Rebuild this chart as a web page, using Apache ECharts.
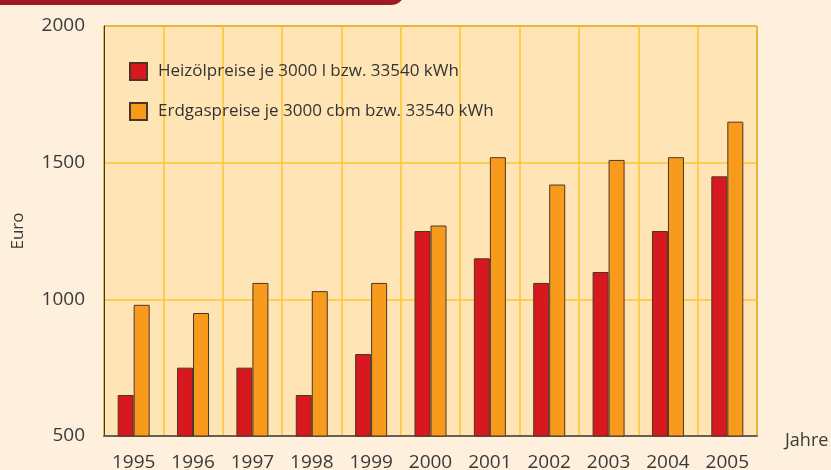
<!DOCTYPE html>
<html><head><meta charset="utf-8">
<script src="https://cdn.jsdelivr.net/npm/echarts@6/dist/echarts.min.js"></script>
<style>html,body{margin:0;padding:0;background:#FEF0DC;}#c{width:831px;height:470px;}</style>
</head><body><div id="c"></div>
<script>
const years = ['1995','1996','1997','1998','1999','2000','2001','2002','2003','2004','2005'];
const heizoel = [650, 750, 750, 650, 800, 1250, 1150, 1060, 1100, 1250, 1450];
const erdgas = [980, 950, 1060, 1030, 1060, 1270, 1520, 1420, 1510, 1520, 1650];
const seriesNames = ['Heizölpreise je 3000 l bzw. 33540 kWh', 'Erdgaspreise je 3000 cbm bzw. 33540 kWh'];
const yTicks = {min: 500, max: 2000, interval: 500};

const font = 'Open Sans, sans-serif';
const chart = echarts.init(document.getElementById('c'));
chart.setOption({
  backgroundColor: '#FEF0DC',
  animation: false,
  graphic: [{
    type: 'rect', shape: {x: -20, y: -20, width: 425, height: 25, r: [0, 0, 14, 0]},
    style: {fill: '#9E1B22'}, z: 10
  }],
  grid: {left: 104, top: 26, right: 74, bottom: 34, outerBoundsMode: 'none', containLabel: false, show: true, backgroundColor: '#FFE5B5', borderColor: '#3a3a3a', borderWidth: 1},
  legend: {
    orient: 'vertical', left: 129, top: 62, itemWidth: 17, itemHeight: 17, itemGap: 21, padding: 0,
    icon: 'rect',
    textStyle: {fontFamily: font, fontSize: 17, color: '#333333', padding: [0, 0, 0, 6]},
    data: seriesNames
  },
  xAxis: {
    type: 'category', data: years,
    name: 'Jahre', nameLocation: 'end', nameGap: 28,
    nameTextStyle: {fontFamily: font, fontSize: 18, color: '#3a3a3a', verticalAlign: 'top', padding: [-4, 0, 0, 0]},
    axisLine: {lineStyle: {color: '#6a5e52', width: 2}},
    axisTick: {show: false},
    axisLabel: {fontFamily: font, fontSize: 19, color: '#3a3a3a', margin: 17},
    splitLine: {show: true, lineStyle: {color: '#FFC42A', width: 1.5}}
  },
  yAxis: {
    type: 'value', min: yTicks.min, max: yTicks.max, interval: yTicks.interval,
    name: 'Euro', nameLocation: 'middle', nameGap: 77, nameRotate: 90,
    nameTextStyle: {fontFamily: font, fontSize: 17, color: '#3a3a3a'},
    axisLine: {show: true, lineStyle: {color: '#3a3a3a', width: 1}},
    axisTick: {show: false},
    axisLabel: {fontFamily: font, fontSize: 19, color: '#3a3a3a', margin: 19, formatter: v => String(v)},
    splitLine: {show: true, lineStyle: {color: '#FFC42A', width: 1.5}}
  },
  series: [
    {name: seriesNames[0], type: 'bar', data: heizoel, barWidth: 16, barGap: '0%',
     itemStyle: {color: '#D7191F', borderColor: '#4a3628', borderWidth: 1}},
    {name: seriesNames[1], type: 'bar', data: erdgas, barWidth: 16,
     itemStyle: {color: '#F89B1C', borderColor: '#4a3628', borderWidth: 1}}
  ]
});
</script></body></html>
